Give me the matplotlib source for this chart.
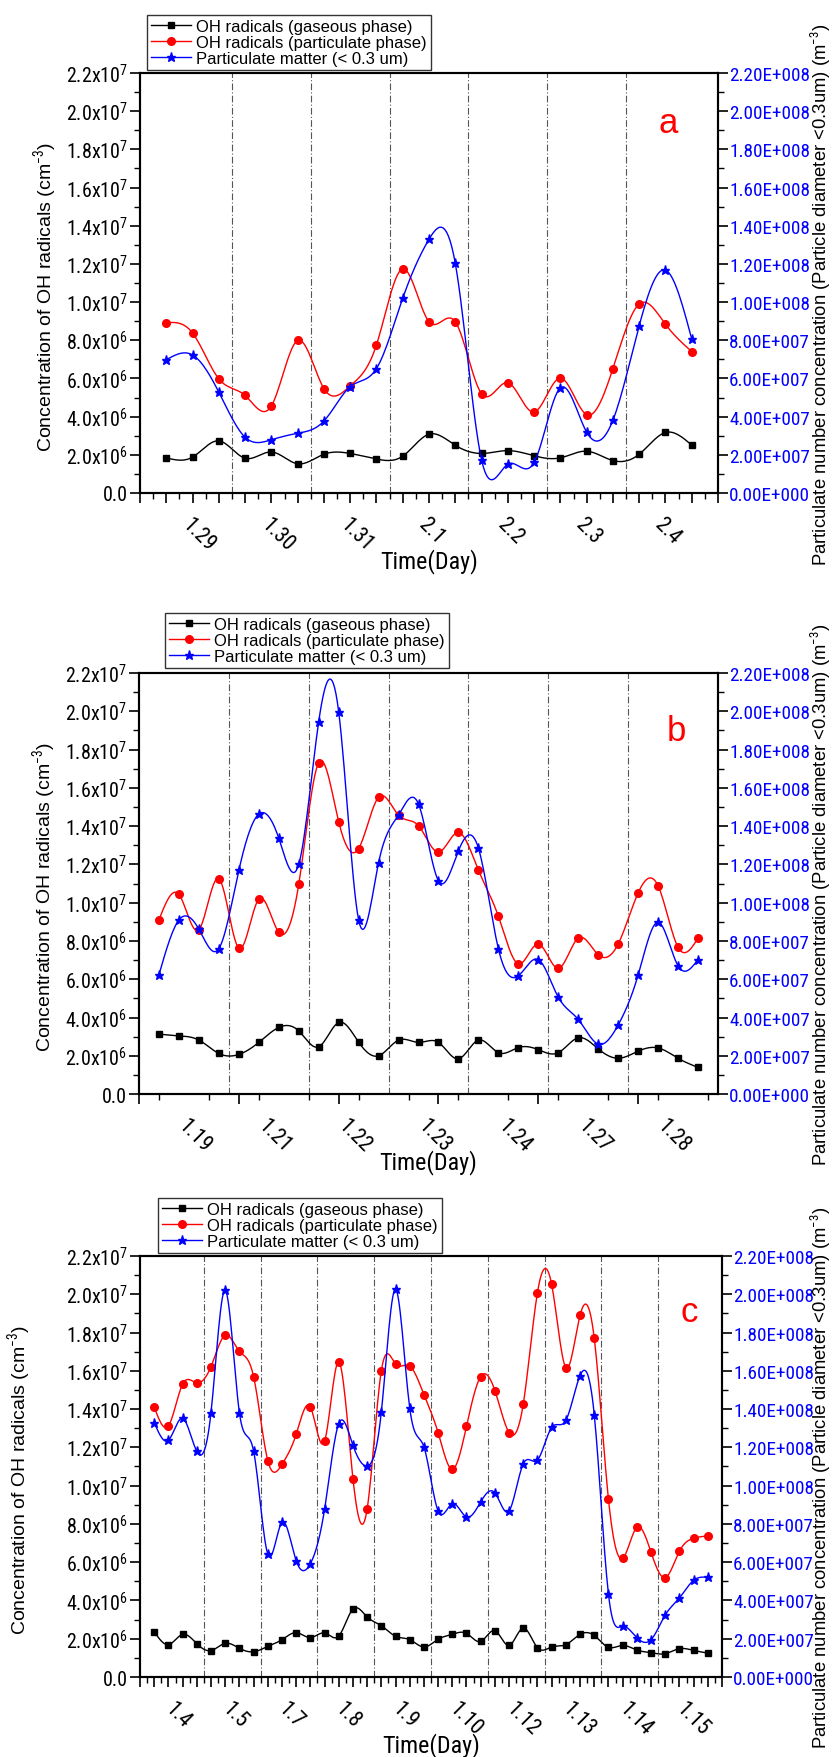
import numpy as np
import matplotlib
matplotlib.use("Agg")
import matplotlib.pyplot as plt
from matplotlib import font_manager
from matplotlib.font_manager import FontProperties
from matplotlib.ticker import MultipleLocator, NullFormatter

plt.rcParams['font.family'] = ['Liberation Sans', 'DejaVu Sans']
plt.rcParams['mathtext.fontset'] = 'custom'


def find_narrow():
    # the reference uses a condensed face for tick / axis texts; take one if installed
    cond = ('condensed', 'semi-condensed', 'extra-condensed', 'ultra-condensed')
    cands = [('Liberation Sans Narrow', False, 1.2), ('Arial Narrow', False, 1.2),
             ('Roboto Condensed', False, 1.15), ('Open Sans Condensed', False, 1.13),
             ('Roboto', True, 1.15), ('Noto Sans', True, 1.1), ('Open Sans', True, 1.12)]
    for name, need, k in cands:
        for f in font_manager.fontManager.ttflist:
            if f.name != name or f.style != 'normal':
                continue
            if str(f.weight) not in ('400', 'normal', 'regular'):
                continue
            if need and str(f.stretch) not in cond:
                continue
            return f.fname, name, k
    return None, 'Liberation Sans', 1.0


NFILE, NNAME, K = find_narrow()
plt.rcParams['mathtext.rm'] = NNAME
plt.rcParams['mathtext.it'] = NNAME


def nfont(size):
    if NFILE:
        return FontProperties(fname=NFILE, size=size * K)
    return FontProperties(family='Liberation Sans', size=size)


# ---- data (gas / particulate OH in 1e6 cm^-3, particulate matter in 1e7 m^-3)
a_days = ['1.29', '1.30', '1.31', '2.1', '2.2', '2.3', '2.4']
a_gas = [1.84, 1.88, 2.73, 1.82, 2.15, 1.53, 2.03, 2.07, 1.78, 1.93, 3.08,
         2.50, 2.07, 2.22, 1.95, 1.84, 2.19, 1.70, 2.03, 3.17, 2.51]
a_part = [8.92, 8.38, 5.98, 5.11, 4.56, 7.99, 5.47, 5.61, 7.76, 11.74, 8.97,
          8.97, 5.20, 5.78, 4.24, 6.02, 4.10, 6.52, 9.90, 8.84, 7.41]
a_pm = [6.98, 7.23, 5.28, 2.92, 2.79, 3.13, 3.77, 5.57, 6.52, 10.2, 13.29,
        12.03, 1.74, 1.51, 1.60, 5.51, 3.19, 3.81, 8.76, 11.68, 8.07]

b_days = ['1.19', '1.21', '1.22', '1.23', '1.24', '1.27', '1.28']
b_gas = [3.13, 3.04, 2.82, 2.12, 2.07, 2.70, 3.48, 3.30, 2.47, 3.74, 2.71, 2.00,
         2.82, 2.70, 2.70, 1.84, 2.82, 2.16, 2.43, 2.32, 2.16, 2.94, 2.36, 1.87,
         2.24, 2.41, 1.87, 1.39]
b_part = [9.11, 10.43, 8.59, 11.25, 7.62, 10.19, 8.45, 10.96, 17.32, 14.24, 12.83,
          15.51, 14.57, 14.02, 12.64, 13.67, 11.70, 9.29, 6.80, 7.84, 6.57, 8.15,
          7.28, 7.84, 10.51, 10.88, 7.67, 8.15]
b_pm = [6.24, 9.10, 8.61, 7.60, 11.69, 14.63, 13.37, 12.00, 19.46, 19.98, 9.10,
        12.09, 14.59, 15.15, 11.14, 12.71, 12.85, 7.59, 6.18, 7.03, 5.06, 3.90,
        2.61, 3.61, 6.22, 8.98, 6.70, 7.03]

c_days = ['1.4', '1.5', '1.7', '1.8', '1.9', '1.10', '1.12', '1.13', '1.14', '1.15']
c_gas = [2.37, 1.69, 2.23, 1.74, 1.38, 1.76, 1.50, 1.32, 1.60, 1.95, 2.32, 2.06,
         2.30, 2.14, 3.55, 3.14, 2.68, 2.13, 1.95, 1.57, 1.97, 2.23, 2.28, 1.86,
         2.42, 1.65, 2.56, 1.53, 1.57, 1.69, 2.23, 2.17, 1.55, 1.65, 1.41, 1.27,
         1.22, 1.48, 1.39, 1.25]
c_part = [14.11, 13.12, 15.30, 15.37, 16.22, 17.86, 17.02, 15.70, 11.31, 11.11,
          12.68, 14.11, 12.32, 16.46, 10.37, 8.78, 16.00, 16.36, 16.25, 14.76,
          12.77, 10.85, 13.10, 15.70, 14.97, 12.77, 14.27, 20.09, 20.51, 16.17,
          18.90, 17.70, 9.30, 6.20, 7.82, 6.52, 5.19, 6.57, 7.25, 7.37]
c_pm = [13.29, 12.37, 13.52, 11.79, 13.82, 20.21, 13.82, 11.81, 6.43, 8.08,
        6.08, 5.92, 8.76, 13.24, 12.11, 11.03, 13.85, 20.26, 14.06, 12.02,
        8.68, 9.06, 8.36, 9.15, 9.62, 8.68, 11.14, 11.34, 13.04, 13.41,
        15.75, 13.71, 4.34, 2.65, 2.06, 1.95, 3.24, 4.13, 5.05, 5.21]

labels = ['OH radicals (gaseous phase)', 'OH radicals (particulate phase)',
          'Particulate matter (< 0.3 um)']
left_ticks = np.arange(0, 2.2e7 + 1, 2e6)
right_ticks = np.arange(0, 2.2e8 + 1, 2e7)


def spline(y, n=15):
    # natural cubic spline through equally spaced points
    y = np.asarray(y, float)
    m = len(y)
    A = np.zeros((m, m))
    r = np.zeros(m)
    A[0, 0] = A[-1, -1] = 1
    for i in range(1, m - 1):
        A[i, i - 1], A[i, i], A[i, i + 1] = 1, 4, 1
        r[i] = 6 * (y[i + 1] - 2 * y[i] + y[i - 1])
    M = np.linalg.solve(A, r)
    xs = np.linspace(0, m - 1, (m - 1) * n + 1)
    i = np.minimum(xs.astype(int), m - 2)
    t = xs - i
    ys = (1 - t) * y[i] + t * y[i + 1] + ((1 - t) ** 3 - (1 - t)) * M[i] / 6 + (t ** 3 - t) * M[i + 1] / 6
    return xs, ys


def left_fmt(v):
    if v <= 0:
        return '0.0'
    e = int(np.floor(np.log10(v) + 1e-9))
    return '%.1fx10$^{%d}$' % (v / 10 ** e, e)


def right_fmt(v):
    if v <= 0:
        return '0.00E+000'
    e = int(np.floor(np.log10(v) + 1e-9))
    return '%.2fE+%03d' % (v / 10 ** e, e)


def panel(ax, gas, part, pm, days, per_day, major, letter, letter_xy, leg_xy, ylab_x, rlab_x):
    n = len(gas)
    x = np.arange(n)
    ax2 = ax.twinx()

    for b in np.arange(per_day - 0.5, n - 1, per_day):
        ax.axvline(b, color='#555555', lw=0.8, ls=(0, (6, 2, 1, 2)), zorder=1)

    xs, ys = spline(gas)
    ax.plot(xs, ys * 1e6, color='black', lw=1.0, zorder=3)
    ax.plot(x, np.array(gas) * 1e6, ls='none', marker='s', ms=4.5, color='black', zorder=4)
    xs, ys = spline(part)
    ax.plot(xs, ys * 1e6, color='red', lw=1.0, zorder=3)
    ax.plot(x, np.array(part) * 1e6, ls='none', marker='o', ms=5.5, color='red', zorder=4)
    xs, ys = spline(pm)
    ax2.plot(xs, ys * 1e7, color='blue', lw=1.0)
    ax2.plot(x, np.array(pm) * 1e7, ls='none', marker='*', ms=6.5, color='blue')

    ax.set_xlim(-1, n)
    ax.xaxis.set_minor_locator(MultipleLocator(major / 2))
    ax.set_xticks(np.arange(-1, n + 0.1, major))
    ax.xaxis.set_major_formatter(NullFormatter())
    ax.set_yticks(left_ticks, [left_fmt(v) for v in left_ticks], fontproperties=nfont(12.5))
    ax.yaxis.set_minor_locator(MultipleLocator(1e6))
    ax2.set_yticks(right_ticks, [right_fmt(v) for v in right_ticks], fontproperties=nfont(12))
    ax2.yaxis.set_minor_locator(MultipleLocator(1e7))
    ax.set_ylim(0, 2.2e7)
    ax2.set_ylim(0, 2.2e8)

    ax.tick_params(which='major', direction='out', length=7, width=1.2, pad=1.5)
    ax.tick_params(which='minor', direction='out', length=4, width=1.0)
    ax.tick_params(axis='y', which='both', right=False)
    ax2.tick_params(which='major', direction='out', length=7, width=1.2,
                    labelcolor='blue', pad=1)
    ax2.tick_params(which='minor', direction='out', length=4, width=1.0)
    for a in (ax, ax2):
        for s in a.spines.values():
            s.set_linewidth(1.5)

    for k, d in enumerate(days):
        cx = k * per_day + (per_day - 1) / 2
        ax.text(cx, -0.05, d, transform=ax.get_xaxis_transform(), rotation=-45,
                rotation_mode='anchor', ha='left', va='top', fontproperties=nfont(13.5))
    ax.text(0.5, -0.16, 'Time(Day)', transform=ax.transAxes, ha='center', va='center',
            fontproperties=nfont(15))
    ax.text(letter_xy[0], letter_xy[1], letter, color='red', fontsize=25,
            ha='center', va='center')

    ax.set_ylabel('Concentration of OH radicals (cm$^{-3}$)', fontsize=14, va='center')
    ax.yaxis.set_label_coords(ylab_x, 0.47)
    ax2.set_ylabel('Particulate number concentration (Particle diameter <0.3um) (m$^{-3}$)',
                   fontsize=13.3, rotation=90, va='center')
    ax2.yaxis.set_label_coords(rlab_x, 0.475)

    h1, = ax.plot([], [], color='black', marker='s', ms=4.5, lw=1.0)
    h2, = ax.plot([], [], color='red', marker='o', ms=5.5, lw=1.0)
    h3, = ax.plot([], [], color='blue', marker='*', ms=6.5, lw=1.0)
    leg = ax.legend([h1, h2, h3], labels, loc='lower left', bbox_to_anchor=leg_xy,
                    borderaxespad=0, fancybox=False, edgecolor='#333333', framealpha=1,
                    fontsize=12, handlelength=2.4, handletextpad=0.3,
                    labelspacing=0.05, borderpad=0.25)
    leg.get_frame().set_linewidth(1.0)


fig = plt.figure(figsize=(8.34, 17.58), dpi=100)
ax_a = fig.add_axes([0.1679, 0.7190, 0.6930, 0.2389])
ax_b = fig.add_axes([0.1667, 0.3771, 0.6942, 0.2395])
ax_c = fig.add_axes([0.1679, 0.0455, 0.6978, 0.2395])

panel(ax_a, a_gas, a_part, a_pm, a_days, 3, 1, 'a', (19.1, 19.4e6), (0.012, 1.007), -0.164, 1.178)
panel(ax_b, b_gas, b_part, b_pm, b_days, 4, 5, 'b', (25.9, 19.0e6), (0.045, 1.012), -0.164, 1.178)
panel(ax_c, c_gas, c_part, c_pm, c_days, 4, 1, 'c', (37.7, 19.1e6), (0.031, 1.007), -0.208, 1.170)

fig.savefig('out.png', dpi=100)
